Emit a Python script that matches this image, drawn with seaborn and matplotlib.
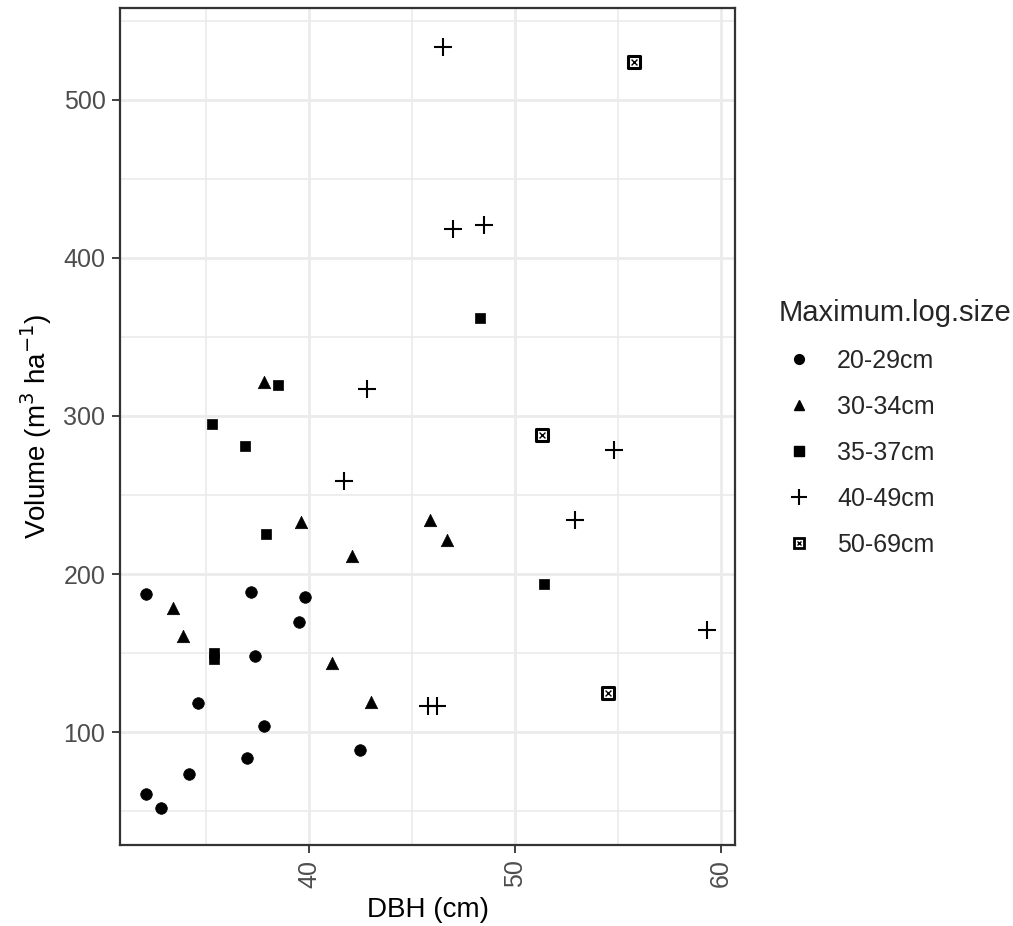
import matplotlib
matplotlib.use("Agg")
import matplotlib.pyplot as plt
from matplotlib.lines import Line2D
from matplotlib.ticker import MultipleLocator
import seaborn as sns
import pandas as pd

sns.set_theme(style="white")
plt.rcParams['font.family'] = ['Liberation Sans', 'DejaVu Sans']

categories = ["20-29cm", "30-34cm", "35-37cm", "40-49cm", "50-69cm"]

dbh_20_29 = [32.1, 37.2, 39.8, 39.5, 37.4, 34.6, 37.8, 37.0, 42.5, 34.2, 32.1, 32.8]
vol_20_29 = [187.3, 188.6, 185.6, 169.6, 148.1, 118.4, 103.8, 83.5, 88.6, 73.4, 60.8, 51.9]

dbh_30_34 = [37.8, 39.6, 42.1, 45.9, 46.7, 33.4, 33.9, 41.1, 43.0]
vol_30_34 = [321.5, 232.9, 211.4, 234.2, 221.5, 178.5, 160.8, 143.7, 119.0]

dbh_35_37 = [38.5, 35.3, 36.9, 37.9, 48.3, 51.4, 35.4, 35.4]
vol_35_37 = [319.6, 294.9, 281.0, 225.3, 362.0, 193.7, 150.0, 146.0]

dbh_40_49 = [46.5, 47.0, 48.5, 42.8, 41.7, 54.8, 52.9, 59.3, 45.8, 46.2]
vol_40_49 = [533.5, 418.4, 420.9, 317.0, 258.9, 278.5, 234.2, 164.6, 116.5, 116.5]

dbh_50_69 = [55.8, 51.3, 54.5]
vol_50_69 = [524.0, 288.0, 124.7]

frames = []
for cat, xs, ys in zip(categories,
                       [dbh_20_29, dbh_30_34, dbh_35_37, dbh_40_49, dbh_50_69],
                       [vol_20_29, vol_30_34, vol_35_37, vol_40_49, vol_50_69]):
    frames.append(pd.DataFrame({"DBH": xs, "Volume": ys, "Maximum.log.size": cat}))
df = pd.concat(frames, ignore_index=True)

W, H = 1013, 926
fig = plt.figure(figsize=(W / 100, H / 100), dpi=100)
ax = fig.add_axes([120 / W, 1 - 845 / H, 615 / W, 837 / H])
ax.set_facecolor("white")

ax.set_xlim(30.83, 60.68)
ax.set_ylim(28.5, 558.2)
ax.xaxis.set_major_locator(MultipleLocator(10))
ax.xaxis.set_minor_locator(MultipleLocator(5))
ax.yaxis.set_major_locator(MultipleLocator(100))
ax.yaxis.set_minor_locator(MultipleLocator(50))
ax.grid(which="major", color="#EBEBEB", linewidth=2.0, zorder=0)
ax.grid(which="minor", color="#EBEBEB", linewidth=1.2, zorder=0)
ax.set_axisbelow(True)

marker_map = {"20-29cm": "o", "30-34cm": "^", "35-37cm": "s"}
size_map = {"20-29cm": 70, "30-34cm": 80, "35-37cm": 60}

for cat in ["20-29cm", "30-34cm", "35-37cm"]:
    sns.scatterplot(data=df[df["Maximum.log.size"] == cat], x="DBH", y="Volume",
                    marker=marker_map[cat], s=size_map[cat], color="black",
                    edgecolor="black", linewidth=0.5, ax=ax, legend=False, zorder=3)
sns.scatterplot(data=df[df["Maximum.log.size"] == "40-49cm"], x="DBH", y="Volume",
                marker="+", s=175, color="black", linewidth=1.5, ax=ax,
                legend=False, zorder=3)
sub5 = df[df["Maximum.log.size"] == "50-69cm"]
sns.scatterplot(data=sub5, x="DBH", y="Volume", marker="s", s=70,
                facecolor="white", edgecolor="black", linewidth=2.2, ax=ax,
                legend=False, zorder=3)
sns.scatterplot(data=sub5, x="DBH", y="Volume", marker="x", s=18,
                color="black", linewidth=1.0, ax=ax, legend=False, zorder=4)

for s in ax.spines.values():
    s.set_color("#333333")
    s.set_linewidth(1.6)

ax.tick_params(axis="both", which="major", length=6, width=1.3, color="#333333",
               labelsize=18, labelcolor="#4D4D4D", direction="out",
               bottom=True, left=True, pad=4.5)
ax.tick_params(axis="both", which="minor", length=0)
plt.setp(ax.get_xticklabels(), rotation=90, va="top", ha="center")

ax.set_xlabel("DBH (cm)", fontsize=20, color="black", labelpad=7)
ax.set_ylabel("Volume (m$^{3}$ ha$^{-1}$)", fontsize=20, color="black", labelpad=7)

handles = [
    Line2D([], [], marker="o", linestyle="", color="black", markersize=7),
    Line2D([], [], marker="^", linestyle="", color="black", markersize=7),
    Line2D([], [], marker="s", linestyle="", color="black", markersize=6.5),
    Line2D([], [], marker="+", linestyle="", color="black", markersize=12, markeredgewidth=1.5),
    (Line2D([], [], marker="s", linestyle="", markerfacecolor="white", markeredgecolor="black",
            markersize=7, markeredgewidth=2.0),
     Line2D([], [], marker="x", linestyle="", color="black", markersize=3.5, markeredgewidth=1.0)),
]
leg = fig.legend(handles, categories, title="Maximum.log.size", loc="upper left",
                 bbox_to_anchor=(769 / W, 1 - 289 / H), frameon=False,
                 fontsize=18, title_fontsize=21, labelspacing=0.88,
                 handletextpad=0.72, handlelength=1.6, borderaxespad=0)
leg._legend_box.align = "left"

fig.savefig("out.png", dpi=100)
